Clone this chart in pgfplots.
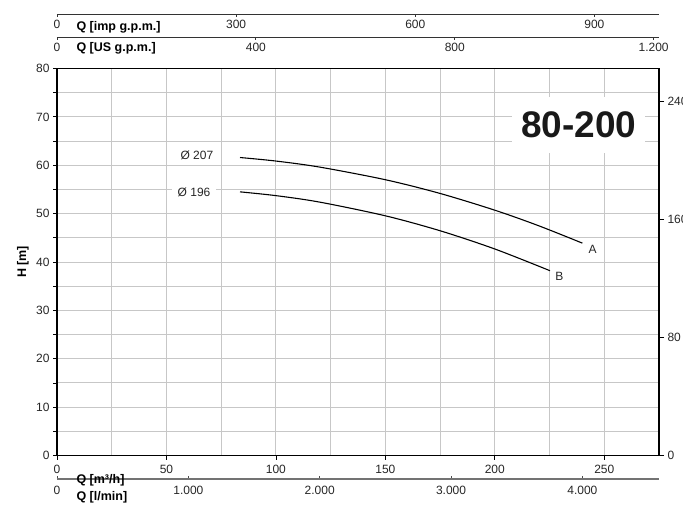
\documentclass[border=0pt]{standalone}
\usepackage{pgfplots}
\pgfplotsset{compat=1.18}
\usepackage{fontspec}
\setmainfont{Liberation Sans}
\newcommand\lbl{\fontsize{12.5bp}{14bp}\selectfont\bfseries}
\begin{document}
\begin{tikzpicture}[x=1bp,y=1bp,font=\fontsize{12bp}{14bp}\selectfont]
% main axis (Q m3/h vs H m)
\begin{axis}[
  at={(57bp,63.5bp)}, anchor=south west, scale only axis,
  width=602bp, height=387bp,
  xmin=0, xmax=275, ymin=0, ymax=80,
  xtick={0,50,...,250}, minor xtick={25,75,...,275},
  ytick={0,10,...,80}, minor ytick={5,15,...,75},
  grid=both,
  major grid style={black!22, line width=0.9bp},
  minor grid style={black!22, line width=0.9bp},
  minor x tick style={draw=none},
  tick align=outside, tick pos=left,
  major tick length=4bp, minor tick length=4bp,
  tick style={black, line width=0.8bp},
  axis line style={line width=1.3bp},
  xticklabel style={yshift=-2bp, text=black!85},
  yticklabel style={text=black!85},
  /pgf/number format/assume math mode=true,
  clip=false,
]
\addplot[black, line width=1.1bp, smooth] coordinates {
 (83.6,61.6) (100,60.87) (120,59.62) (150,57.01) (175,54.17) (200,50.71) (220,47.50) (240,43.9)};
\addplot[black, line width=1.1bp, smooth] coordinates {
 (83.6,54.5) (100,53.72) (120,52.38) (150,49.55) (175,46.46) (200,42.69) (225.2,38.2)};
\node[fill=white, inner xsep=6bp, inner ysep=2bp, text=black!85] at (axis cs:63.9,62.0) {Ø 207};
\node[fill=white, inner xsep=6bp, inner ysep=2bp, text=black!85] at (axis cs:62.6,54.5) {Ø 196};
\node[text=black!85] at (axis cs:244.7,42.6) {A};
\node[text=black!85] at (axis cs:229.5,37.1) {B};
\node[fill=white, inner xsep=9bp, inner ysep=15bp, font=\fontsize{37bp}{40bp}\selectfont\bfseries, text=black!90] at (axis cs:238.3,68.3) {80-200};
\end{axis}
% right axis (ft)
\begin{axis}[
  at={(57bp,63.5bp)}, anchor=south west, scale only axis,
  width=602bp, height=387bp,
  xmin=0, xmax=275, ymin=0, ymax=262.4672,
  axis x line=none, axis y line*=right,
  ytick={0,80,160,240},
  tick align=outside, major tick length=5bp,
  tick style={black, line width=0.8bp},
  axis line style={line width=1.3bp},
  yticklabel style={text=black!85},
  /pgf/number format/assume math mode=true,
]
\end{axis}
% top: imp g.p.m.
\begin{axis}[
  at={(57bp,505bp)}, anchor=south west, scale only axis,
  width=602bp, height=10bp,
  xmin=0, xmax=1008.2, ymin=0, ymax=1,
  axis x line=bottom, axis y line=none,
  axis line style={-, line width=0.9bp, black!80},
  xtick={0,300,600,900}, xticklabels={0,300,600,900},
  tick align=outside, major tick length=3bp,
  tick style={black!80, line width=0.8bp},
  xticklabel style={text=black!85},
]
\end{axis}
% top: US g.p.m.
\begin{axis}[
  at={(57bp,482bp)}, anchor=south west, scale only axis,
  width=602bp, height=10bp,
  xmin=0, xmax=1210.79, ymin=0, ymax=1,
  axis x line=bottom, axis y line=none,
  axis line style={-, line width=0.9bp, black!80},
  xtick={0,400,800,1200}, xticklabels={0,400,800,{1.200}},
  tick align=outside, major tick length=3bp,
  tick style={black!80, line width=0.8bp},
  xticklabel style={text=black!85},
]
\end{axis}
% bottom: l/min
\begin{axis}[
  at={(57bp,40bp)}, anchor=south west, scale only axis,
  width=602bp, height=10bp,
  xmin=0, xmax=4583.33, ymin=0, ymax=1,
  axis x line=bottom, axis y line=none,
  axis line style={-, line width=1.4bp, black!55},
  xtick={0,1000,2000,3000,4000}, xticklabels={0,{1.000},{2.000},{3.000},{4.000}},
  tick align=inside, major tick length=3bp,
  tick style={black!70, line width=0.8bp},
  xticklabel style={text=black!85, yshift=-4bp},
]
\end{axis}
\node[anchor=west, font=\lbl] at (73bp,492bp) {Q [imp g.p.m.]};
\node[anchor=west, font=\lbl] at (73bp,471bp) {Q [US g.p.m.]};
\node[anchor=west, font=\lbl] at (73bp,39bp) {Q [m³/h]};
\node[anchor=west, font=\lbl] at (73bp,22bp) {Q [l/min]};
\node[rotate=90, font=\lbl] at (23bp,257bp) {H [m]};
\pgfresetboundingbox
\useasboundingbox (0bp,0bp) rectangle (683bp,519bp);
\end{tikzpicture}
\end{document}
